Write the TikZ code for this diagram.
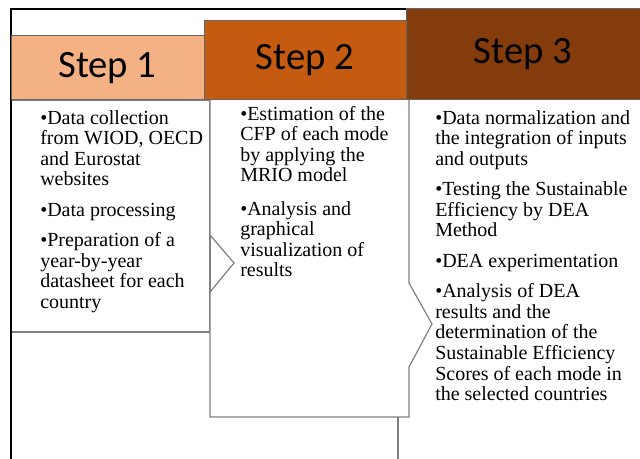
\documentclass[tikz,border=0pt]{standalone}
\usepackage{fontspec}
\setmainfont{Liberation Serif}
\newfontfamily\stepfont{Carlito}

\definecolor{stepone}{HTML}{F4B183}
\definecolor{steptwo}{HTML}{C55A11}
\definecolor{stepthree}{HTML}{843C0C}
\definecolor{edgegray}{HTML}{7F7F7F}

\newcommand\pgap{\\[7.5pt]}

\begin{document}
\begin{tikzpicture}[x=0.75pt,y=-0.75pt]
\tikzstyle{head}=[draw=black!60,line width=0.75pt]
\tikzstyle{headtext}=[inner sep=0pt,font=\stepfont\fontsize{29}{29}\selectfont]
\tikzstyle{body}=[draw=edgegray,line width=0.9pt,fill=white]
\tikzstyle{list}=[anchor=north west,inner sep=0pt,align=left,font=\fontsize{15}{15.4}\selectfont]
\useasboundingbox (0,0) rectangle (640,459);

% bodies
\draw [body] (11,100) rectangle (210,332);
\draw [body] (210,100) -- (210,235) -- (234,263) -- (210,292) -- (210,417)
  -- (409,417) -- (409,367) -- (432,324) -- (409,283) -- (409,100);
\draw [edgegray,line width=0.9pt] (398,417) -- (398,459);

% outer frame
\draw [black,line width=0.9pt] (11,459) -- (11,9) -- (406,9);

% headers
\draw [head,fill=stepone] (11,36) rectangle (204,100);
\draw [head,fill=steptwo] (204,21) rectangle (406,100);
\draw [head,fill=stepthree] (406,9) rectangle (641,100);
\node [headtext] (s1) at (107.5,68) {Step 1};
\node [headtext] (s2) at (305,60.5) {Step 2};
\node [headtext] (s3) at (523,54.5) {Step 3};

% lists
\node [list] (l1) at (40,110) {%
  •Data collection\\ from WIOD, OECD\\ and Eurostat\\ websites\pgap
  •Data processing\pgap
  •Preparation of a\\ year-by-year\\ datasheet for each\\ country};
\node [list] (l2) at (240,106) {%
  •Estimation of the\\ CFP of each mode\\ by applying the\\ MRIO model\\[9.5pt]
  •Analysis and\\ graphical\\ visualization of\\ results};
\node [list] (l3) at (435,110) {%
  •Data normalization and\\ the integration of inputs\\ and outputs\pgap
  •Testing the Sustainable\\ Efficiency by DEA\\ Method\pgap
  •DEA experimentation\pgap
  •Analysis of DEA\\ results and the\\ determination of the\\ Sustainable Efficiency\\ Scores of each mode in\\ the selected countries};
\end{tikzpicture}
\end{document}
